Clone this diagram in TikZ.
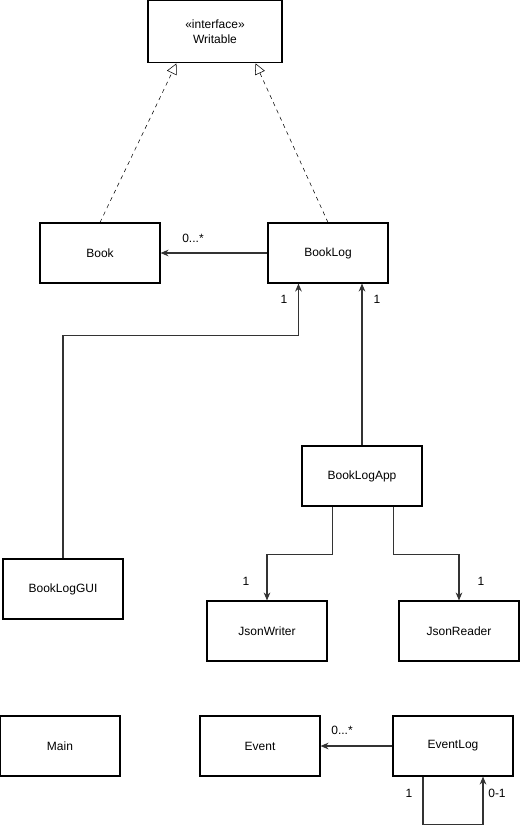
\documentclass[tikz,border=0pt]{standalone}
\usepackage{fontspec}
\setmainfont{Liberation Sans}
\usetikzlibrary{arrows.meta}

\begin{document}
\begin{tikzpicture}[x=0.75pt,y=-0.75pt,
  cls/.style={draw,thick,minimum width=90pt,minimum height=45pt,inner sep=0pt,font=\fontsize{9}{11}\selectfont,align=center},
  assoc/.style={thick,draw=black!80,-{Stealth[length=6pt,width=5pt]}},
  real/.style={thin,dashed,-{Triangle[open,length=8pt,width=8pt]}},
  lbl/.style={font=\fontsize{9}{11}\selectfont,inner sep=0pt}]
\useasboundingbox (0,0) rectangle (520,833);

\node[cls,minimum width=100.5pt,minimum height=47pt] (wr) at (215,31.5) {«interface»\\Writable};
\node[cls] (bk) at (100,253) {Book};
\node[cls] (bl) at (328,253) {BookLog};
\node[cls] (app) at (362,476) {BookLogApp};
\node[cls] (gui) at (63,589) {BookLogGUI};
\node[cls] (jw) at (267,631) {JsonWriter};
\node[cls] (jr) at (459,631) {JsonReader};
\node[cls] (mn) at (60,746) {Main};
\node[cls] (ev) at (260,746) {Event};
\node[cls] (el) at (453,746) {EventLog};

\draw[real] (bk.north) -- ([xshift=21.75pt]wr.south west);
\draw[real] (bl.north) -- ([xshift=-20.25pt]wr.south east);

\draw[assoc] (bl.west) -- (bk.east);
\node[lbl] at (193,238) {0...*};

\draw[assoc] (gui.north) -- ++(0,-223) -| ([xshift=23.25pt]bl.south west);
\node[lbl] at (284,299) {1};
\draw[assoc] (app.north) -- (app.north |- bl.south);
\node[lbl] at (377,299) {1};

\draw[assoc] ([xshift=23.25pt]app.south west) -- ++(0,48) -| (jw.north);
\node[lbl] at (246,581) {1};
\draw[assoc] ([xshift=-21.75pt]app.south east) -- ++(0,48) -| (jr.north);
\node[lbl] at (481,581) {1};

\draw[assoc] (el.west) -- (ev.east);
\node[lbl] at (342,730) {0...*};

\draw[assoc] ([xshift=-22.5pt]el.south) -- ++(0,48) -| ([xshift=22.5pt]el.south);
\node[lbl] at (409,793) {1};
\node[lbl] at (497,793) {0-1};
\end{tikzpicture}
\end{document}
